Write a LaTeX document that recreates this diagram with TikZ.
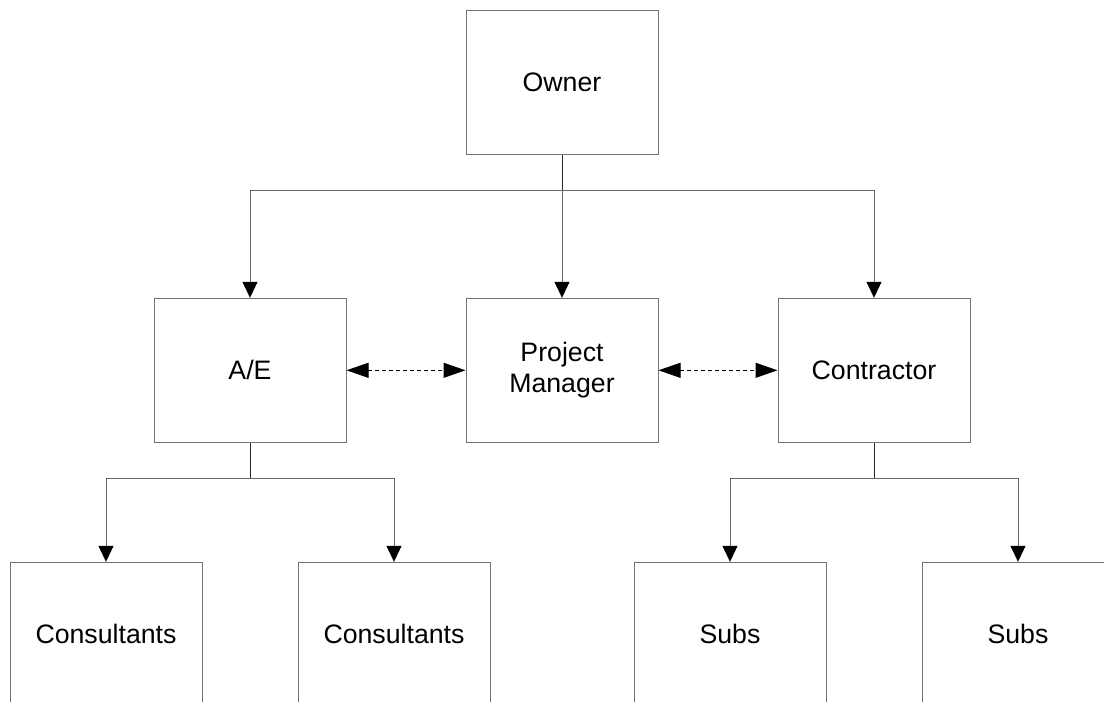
\documentclass[tikz,border=0pt]{standalone}
\usepackage{fontspec}
\setmainfont{Liberation Sans}
\usetikzlibrary{arrows.meta}
\begin{document}
\begin{tikzpicture}[x=1pt,y=-1pt,
  box/.style={draw=black!55, line width=1pt, minimum width=192pt, minimum height=144pt, inner sep=0pt, align=center, font=\fontsize{26.7}{31.5}\selectfont, text=black},
  conn/.style={draw=black!60, line width=1pt},
  down/.style={conn, -{Triangle[length=16pt,width=15pt,color=black,fill=black]}},
  link/.style={draw=black, line width=1pt, dash pattern=on 4pt off 3pt, {Triangle[length=22pt,width=15pt,color=black,fill=black]}-{Triangle[length=22pt,width=15pt,color=black,fill=black]}}]
\useasboundingbox (0,0) rectangle (1104,702);
\clip (0,0) rectangle (1104,702);
\fill[white] (0,0) rectangle (1104,702);
\node[box] (owner) at (562,82.5) {Owner};
\node[box] (ae) at (250,370.3) {A/E};
\node[box] (pm) at (562,370.3) {Project\\Manager};
\node[box] (ct) at (874,370.3) {Contractor};
\node[box] (c1) at (106,634.3) {Consultants};
\node[box] (c2) at (394,634.3) {Consultants};
\node[box] (s1) at (730,634.3) {Subs};
\node[box] (s2) at (1018,634.3) {Subs};
\coordinate (ob) at (562,190.7);
\coordinate (ab) at (250,478.3);
\coordinate (cb) at (874,478.3);
\draw[conn, draw=black!85] (owner.south) -- (ob);
\draw[down] (ob) -| (ae.north);
\draw[down] (ob) -- (pm.north);
\draw[down] (ob) -| (ct.north);
\draw[conn, draw=black!85] (ae.south) -- (ab);
\draw[down] (ab) -| (c1.north);
\draw[down] (ab) -| (c2.north);
\draw[conn, draw=black!85] (ct.south) -- (cb);
\draw[down] (cb) -| (s1.north);
\draw[down] (cb) -| (s2.north);
\draw[link] (ae.east) -- (pm.west);
\draw[link] (pm.east) -- (ct.west);
\end{tikzpicture}
\end{document}
